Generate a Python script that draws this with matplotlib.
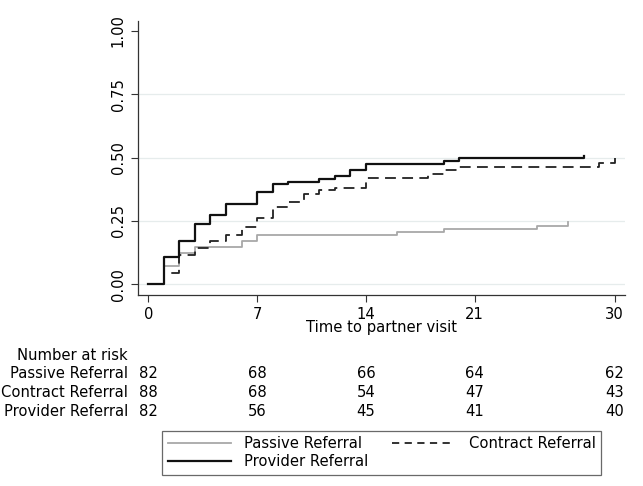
import matplotlib
matplotlib.use("Agg")
import matplotlib.pyplot as plt
from matplotlib.lines import Line2D

# cumulative proportion with partner visit
passive_t = [0, 1, 2, 3, 6, 7, 16, 19, 25, 27]
passive_y = [0, 0.073, 0.122, 0.146, 0.171, 0.195, 0.207, 0.220, 0.232, 0.244]

contract_t = [0, 1, 2, 3, 4, 5, 6, 7, 8, 9, 10, 11, 12, 14, 18, 19, 20, 29, 30]
contract_y = [0, 0.045, 0.114, 0.142, 0.170, 0.193, 0.225, 0.261, 0.306, 0.326,
              0.355, 0.372, 0.382, 0.418, 0.434, 0.453, 0.464, 0.477, 0.497]

provider_t = [0, 1, 2, 3, 4, 5, 7, 8, 9, 11, 12, 13, 14, 19, 20, 28]
provider_y = [0, 0.106, 0.171, 0.237, 0.273, 0.317, 0.363, 0.394, 0.402, 0.415,
              0.428, 0.451, 0.474, 0.487, 0.499, 0.507]

xticks = [0, 7, 14, 21, 30]
yticks = [0, 0.25, 0.5, 0.75, 1.0]
groups = ["Passive Referral", "Contract Referral", "Provider Referral"]
at_risk = {
    "Passive Referral": [82, 68, 66, 64, 62],
    "Contract Referral": [88, 68, 54, 47, 43],
    "Provider Referral": [82, 56, 45, 41, 40],
}

plt.rcParams['font.family'] = 'DejaVu Sans'
fs = 10.6

fig = plt.figure(figsize=(6.43, 4.86), dpi=100)
W, H = 643, 486
ax = fig.add_axes([137.7 / W, 1 - 295 / H, (625 - 137.7) / W, (295 - 20.7) / H])

for yv in yticks[:-1]:
    ax.axhline(yv, color='#e6ecec', lw=0.9, zorder=0)

ax.plot(passive_t, passive_y, drawstyle='steps-post', color='#a8a8a8', lw=1.3)
ax.plot(contract_t, contract_y, drawstyle='steps-post', color='#222222', lw=1.3,
        dashes=(6, 3.5))
ax.plot(provider_t, provider_y, drawstyle='steps-post', color='#111111', lw=1.6)

ax.set_xlim(-0.68, 30.66)
ax.set_ylim(-0.042, 1.04)
ax.set_xticks(xticks)
ax.set_yticks(yticks)
ax.set_yticklabels(["%.2f" % v for v in yticks], rotation=90, va='center')
ax.tick_params(direction='out', length=5, width=0.8, labelsize=fs, color='#333333')
for s in ['top', 'right']:
    ax.spines[s].set_visible(False)
for s in ['left', 'bottom']:
    ax.spines[s].set_color('#333333')
    ax.spines[s].set_linewidth(0.9)
ax.set_xlabel("Time to partner visit", fontsize=fs, labelpad=-1)

# number at risk table
lx = 128 / W
fig.text(lx, 1 - 355 / H, "Number at risk", ha='right', va='center', fontsize=fs)
row_y = [373, 392, 411]
for g, ry in zip(groups, row_y):
    fig.text(lx, 1 - ry / H, g, ha='right', va='center', fontsize=fs)
    for t, n in zip(xticks, at_risk[g]):
        xf = fig.transFigure.inverted().transform(ax.transData.transform((t, 0)))[0]
        fig.text(xf, 1 - ry / H, str(n), ha='center', va='center', fontsize=fs)

handles = [
    Line2D([], [], color='#a8a8a8', lw=1.3),
    Line2D([], [], color='#111111', lw=1.6),
    Line2D([], [], color='#222222', lw=1.3, dashes=(4, 3)),
]
labels = ["Passive Referral", "Provider Referral", "Contract Referral"]
leg = fig.legend(handles, labels, ncol=2, loc='lower left', mode='expand',
                 bbox_to_anchor=(155 / W, 1 - 482 / H, (608 - 155) / W, (482 - 428) / H),
                 fontsize=fs, handlelength=4.3, handletextpad=0.9, frameon=True,
                 fancybox=False, edgecolor='#444444', borderpad=0.35, labelspacing=0.25)
leg.get_frame().set_linewidth(0.9)

fig.savefig("out.png", dpi=100)
